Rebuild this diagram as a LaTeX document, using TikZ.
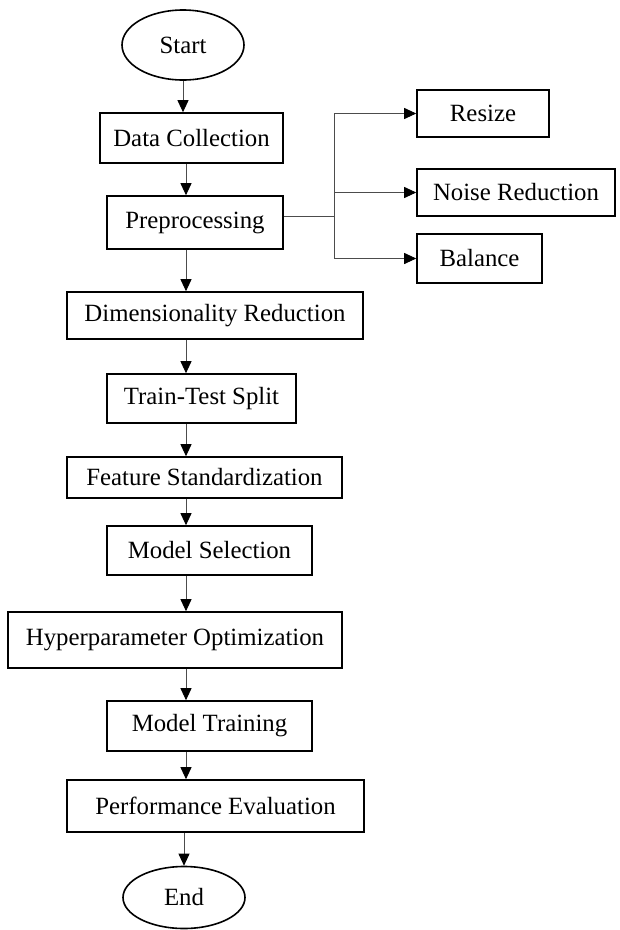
\documentclass[tikz,border=0pt]{standalone}
\usepackage{fontspec}
\setmainfont{Liberation Serif}
\usetikzlibrary{arrows.meta,shapes.geometric}
\begin{document}
\begin{tikzpicture}[x=1pt,y=-1pt,
  every node/.style={font=\fontsize{24.8}{27}\selectfont, inner sep=0pt},
  box/.style={draw=black, line width=1.6pt, rectangle},
  term/.style={draw=black, line width=1.6pt, ellipse},
  arr/.style={draw=black!70, line width=0.9pt, -{Triangle[length=12pt,width=11pt,fill=black,color=black]}},
  ln/.style={draw=black!70, line width=0.9pt}]
\useasboundingbox (0,0) rectangle (620,930);
\node[term, minimum width=122pt, minimum height=70pt] (start) at (183,45) {Start};
\node[box, minimum width=183pt, minimum height=50pt] (dc) at (191.5,138) {Data Collection};
\node[box, minimum width=176pt, minimum height=53pt] (prep) at (195,222.5) {Preprocessing};
\node[box, minimum width=132pt, minimum height=47pt] (resize) at (483,113.5) {Resize};
\node[box, minimum width=198pt, minimum height=47pt] (noise) at (516,192.5) {Noise Reduction};
\node[box, minimum width=125pt, minimum height=49pt] (bal) at (479.5,258.5) {Balance};
\node[box, minimum width=296pt, minimum height=47pt] (dim) at (215,315.5) {Dimensionality Reduction};
\node[box, minimum width=189pt, minimum height=49pt] (tts) at (201.5,398.5) {Train-Test Split};
\node[box, minimum width=275pt, minimum height=41pt] (fs) at (204.5,477.5) {Feature Standardization};
\node[box, minimum width=205pt, minimum height=49pt] (ms) at (209.5,550.5) {Model Selection};
\node[box, minimum width=334pt, minimum height=56pt] (hp) at (175,640) {Hyperparameter Optimization};
\node[box, minimum width=205pt, minimum height=50pt] (mt) at (209.5,726) {Model Training};
\node[box, minimum width=297pt, minimum height=52pt] (pe) at (215.5,806) {Performance Evaluation};
\node[term, minimum width=122pt, minimum height=62pt] (end) at (184,897.5) {End};
\coordinate (sp) at (186,0);
\coordinate (hub) at (334,216);
\draw[arr] (start.south) -- (dc.north -| start.south);
\draw[arr] (dc.south -| sp) -- (prep.north -| sp);
\draw[arr] (prep.south -| sp) -- (dim.north -| sp);
\draw[arr] (dim.south -| sp) -- (tts.north -| sp);
\draw[arr] (tts.south -| sp) -- (fs.north -| sp);
\draw[arr] (fs.south -| sp) -- (ms.north -| sp);
\draw[arr] (ms.south -| sp) -- (hp.north -| sp);
\draw[arr] (hp.south -| sp) -- (mt.north -| sp);
\draw[arr] (mt.south -| sp) -- (pe.north -| sp);
\draw[arr] (pe.south -| end.north) -- (end.north);
\draw[ln] (prep.east |- hub) -- (hub);
\draw[ln] (hub |- resize.west) -- (hub |- bal.west);
\draw[arr] (hub |- resize.west) -- (resize.west);
\draw[arr] (hub |- noise.west) -- (noise.west);
\draw[arr] (hub |- bal.west) -- (bal.west);
\end{tikzpicture}
\end{document}
